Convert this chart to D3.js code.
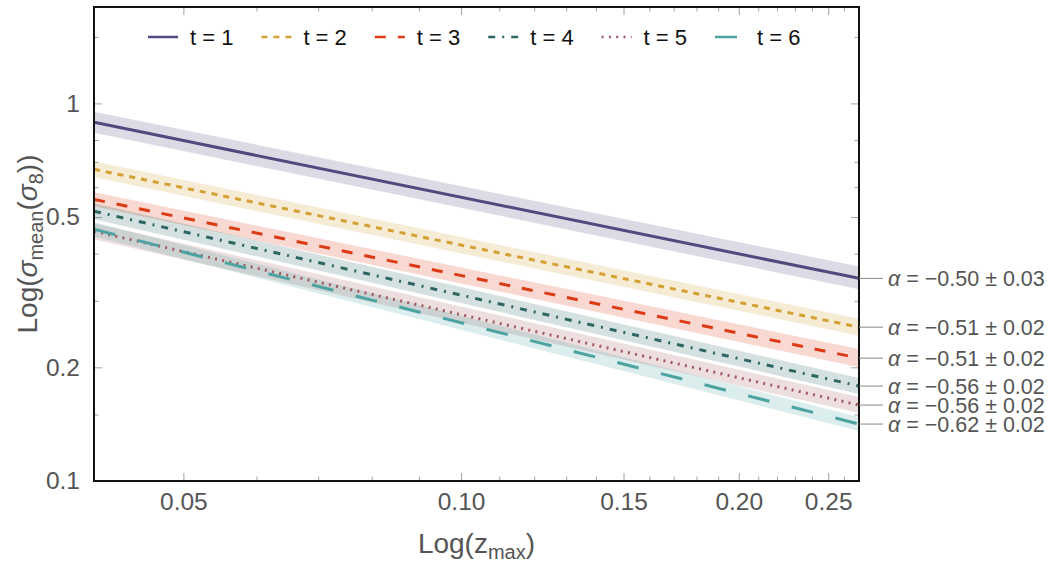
<!DOCTYPE html>
<html>
<head>
<meta charset="utf-8">
<script src="https://cdn.jsdelivr.net/npm/d3@7"></script>
<style>
  html, body { margin: 0; padding: 0; background: #fff; }
  svg { display: block; font-family: "Liberation Sans", Arial, sans-serif; }
  .tick line { stroke: #a0a0a0; stroke-width: 1; }
  .tick text { fill: #555; font-size: 24.5px; }
</style>
</head>
<body>
<div id="chart"></div>
<script>
// Data (fitted power laws, values at the two ends of the z range)
const zEnds = [0.04, 0.27];
const seriesNames = ["t = 1", "t = 2", "t = 3", "t = 4", "t = 5", "t = 6"];
const fitMid = [
  [0.891, 0.344],
  [0.669, 0.2555],
  [0.557, 0.2115],
  [0.518, 0.1784],
  [0.4586, 0.1589],
  [0.464, 0.1415],
];
const fitLow = [
  [0.836, 0.322],
  [0.637, 0.2426],
  [0.534, 0.2002],
  [0.4932, 0.1699],
  [0.4367, 0.1513],
  [0.4448, 0.1356],
];
const fitHigh = [
  [0.95, 0.37],
  [0.702, 0.269],
  [0.582, 0.2235],
  [0.5437, 0.1873],
  [0.4815, 0.1668],
  [0.4844, 0.1477],
];
const alphaValues = ["−0.50", "−0.51", "−0.51", "−0.56", "−0.56", "−0.62"];
const alphaErrors = ["0.03", "0.02", "0.02", "0.02", "0.02", "0.02"];

// Ticks
const xMajorTicks = [0.05, 0.1, 0.15, 0.2, 0.25];
const xTickLabels = ["0.05", "0.10", "0.15", "0.20", "0.25"];
const xMinorTicks = [0.06, 0.07, 0.08, 0.09, 0.11, 0.12, 0.13, 0.14, 0.16, 0.17,
  0.18, 0.19, 0.21, 0.22, 0.23, 0.24, 0.26];
const yMajorTicks = [0.1, 0.2, 0.5, 1];
const yTickLabels = ["0.1", "0.2", "0.5", "1"];
const yMinorTicks = [0.15, 0.3, 0.4, 0.6, 0.7, 0.8, 1.5];

// Styles
const colors = ["#4f4b7f", "#d3a033", "#dc3a14", "#2e6663", "#a35a5f", "#4da3a2"];
const dashes = ["none", "6,6", "11,12", "7,7,2,7", "2,5.3", "22,23"];

const svgWidth = 1060, svgHeight = 563;
const margin = { top: 7, right: 201, bottom: 82, left: 94 };
const width = svgWidth - margin.left - margin.right;
const height = svgHeight - margin.top - margin.bottom;

const x = d3.scaleLog().domain([0.04, 0.27]).range([0, width]);
const y = d3.scaleLog().domain([0.1, 1.8]).range([height, 0]);

const svg = d3.select("#chart").append("svg")
  .attr("width", svgWidth)
  .attr("height", svgHeight);

svg.append("defs").append("clipPath").attr("id", "plot-clip")
  .append("rect").attr("width", width).attr("height", height);

const g = svg.append("g").attr("transform", `translate(${margin.left},${margin.top})`);

// Build series
const series = seriesNames.map((name, i) => ({
  name,
  color: colors[i],
  dash: dashes[i],
  alpha: alphaValues[i],
  err: alphaErrors[i],
  values: zEnds.map((z, j) => ({
    z,
    mid: fitMid[i][j],
    lo: fitLow[i][j],
    hi: fitHigh[i][j],
  })),
}));

// Axes (ticks inward on all four sides)
function tickAxis(axisFn, scale, values, size, labels) {
  return axisFn(scale)
    .tickValues(values)
    .tickSizeInner(-size)
    .tickSizeOuter(0)
    .tickPadding(labels ? 12 : 0)
    .tickFormat((d, i) => (labels ? labels[i] : ""));
}

g.append("g").attr("transform", `translate(0,${height})`)
  .call(tickAxis(d3.axisBottom, x, xMinorTicks, 4.5));
g.append("g").attr("transform", `translate(0,${height})`)
  .call(tickAxis(d3.axisBottom, x, xMajorTicks, 8, xTickLabels));
g.append("g").call(tickAxis(d3.axisTop, x, xMinorTicks, 4.5));
g.append("g").call(tickAxis(d3.axisTop, x, xMajorTicks, 8));
g.append("g").call(tickAxis(d3.axisLeft, y, yMinorTicks, 4.5));
g.append("g").call(tickAxis(d3.axisLeft, y, yMajorTicks, 8, yTickLabels).tickPadding(14));
g.append("g").attr("transform", `translate(${width},0)`)
  .call(tickAxis(d3.axisRight, y, yMinorTicks, 4.5));
g.append("g").attr("transform", `translate(${width},0)`)
  .call(tickAxis(d3.axisRight, y, yMajorTicks, 8));
g.selectAll(".domain").remove();

// Bands and lines
const plot = g.append("g").attr("clip-path", "url(#plot-clip)");

const area = d3.area()
  .x((d) => x(d.z))
  .y0((d) => y(d.lo))
  .y1((d) => y(d.hi));
const line = d3.line()
  .x((d) => x(d.z))
  .y((d) => y(d.mid));

plot.selectAll(".band")
  .data(series)
  .join("path")
  .attr("class", "band")
  .attr("fill", (d) => d.color)
  .attr("fill-opacity", 0.2)
  .attr("d", (d) => area(d.values));

plot.selectAll(".line")
  .data(series)
  .join("path")
  .attr("class", "line")
  .attr("fill", "none")
  .attr("stroke", (d) => d.color)
  .attr("stroke-width", 3)
  .attr("stroke-dasharray", (d) => d.dash)
  .attr("d", (d) => line(d.values));

// Frame
g.append("rect")
  .attr("width", width)
  .attr("height", height)
  .attr("fill", "none")
  .attr("stroke", "#111")
  .attr("stroke-width", 2);

// Alpha labels on the right
const labels = g.append("g")
  .selectAll(".alpha-label")
  .data(series)
  .join("g")
  .attr("class", "alpha-label")
  .attr("transform", (d) => `translate(${width},${y(d.values[1].mid)})`);
labels.append("line")
  .attr("x1", 0).attr("x2", 24)
  .attr("stroke", "#888").attr("stroke-width", 1);
const lt = labels.append("text")
  .attr("x", 29)
  .attr("dy", "0.36em")
  .attr("fill", "#555")
  .style("font-size", "21.5px");
lt.append("tspan").style("font-style", "italic").text("α");
lt.append("tspan").text((d) => ` = ${d.alpha} ± ${d.err}`);

// Legend
const legendX = d3.scalePoint().domain(seriesNames).range([148 - margin.left, 715 - margin.left]);
const legend = g.append("g")
  .selectAll(".legend-item")
  .data(series)
  .join("g")
  .attr("class", "legend-item")
  .attr("transform", (d) => `translate(${legendX(d.name)},${37 - margin.top})`);
legend.append("line")
  .attr("x1", 0).attr("x2", 30)
  .attr("stroke", (d) => d.color)
  .attr("stroke-width", 2.5)
  .attr("stroke-dasharray", (d) => d.dash);
legend.append("text")
  .attr("x", 42)
  .attr("dy", "0.35em")
  .attr("fill", "#111")
  .style("font-size", "22px")
  .text((d) => d.name);

// Axis titles
const xTitle = g.append("text")
  .attr("x", width / 2)
  .attr("y", height + 72)
  .attr("text-anchor", "middle")
  .attr("fill", "#555")
  .style("font-size", "28px");
xTitle.append("tspan").text("Log(z");
xTitle.append("tspan").attr("dy", 6).style("font-size", "20px").text("max");
xTitle.append("tspan").attr("dy", -6).text(")");

const yTitle = svg.append("text")
  .attr("transform", `translate(37,${margin.top + height / 2}) rotate(-90)`)
  .attr("text-anchor", "middle")
  .attr("fill", "#555")
  .style("font-size", "28px");
yTitle.append("tspan").text("Log(");
yTitle.append("tspan").style("font-style", "italic").text("σ");
yTitle.append("tspan").attr("dy", 6).style("font-size", "20px").text("mean");
yTitle.append("tspan").attr("dy", -6).text("(");
yTitle.append("tspan").style("font-style", "italic").text("σ");
yTitle.append("tspan").attr("dy", 6).style("font-size", "20px").text("8");
yTitle.append("tspan").attr("dy", -6).text("))");
</script>
</body>
</html>
